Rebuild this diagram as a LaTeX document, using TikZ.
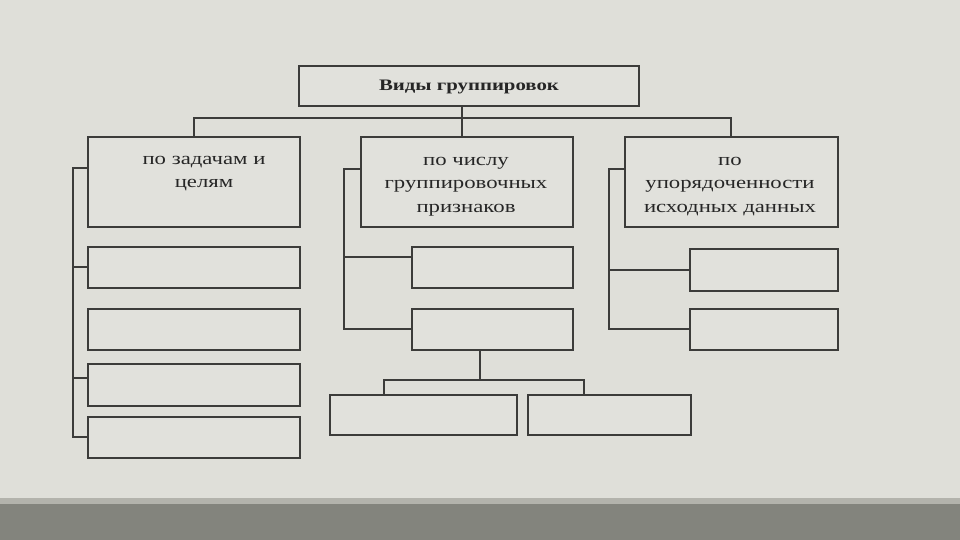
\documentclass[tikz,border=0pt]{standalone}
\usepackage{fontspec}
\setmainfont{Liberation Serif}[FakeStretch=1.3]
\definecolor{bg}{HTML}{DFDFD9}
\definecolor{boxfill}{HTML}{E1E1DC}
\definecolor{ln}{HTML}{3C3C3A}
\definecolor{band}{HTML}{83847D}
\definecolor{strip}{HTML}{B3B3AC}
\tikzset{
  box/.style={draw=ln, line width=1.8pt, fill=boxfill, anchor=north west, inner sep=0pt},
  lbl/.style={anchor=north, align=center, font=\fontsize{17.5}{23.5}\selectfont, text=black!85, inner sep=0pt},
  conn/.style={draw=ln, line width=2pt}
}
\begin{document}
\begin{tikzpicture}[x=1pt,y=-1pt]
\useasboundingbox (0,0) rectangle (960,540);
\fill[bg] (0,0) rectangle (960,540);
\fill[strip] (0,498) rectangle (960,504);
\fill[band] (0,504) rectangle (960,540);
% boxes
\node[box, minimum width=340pt, minimum height=40pt] (top) at (298,65) {};
\node[lbl, font=\fontsize{16}{20}\selectfont\bfseries] (toptext) at (469,80) {Виды группировок};
\node[box, minimum width=212pt, minimum height=90pt] (l1) at (87,136) {};
\node[box, minimum width=212pt, minimum height=41pt] (l2) at (87,246) {};
\node[box, minimum width=212pt, minimum height=41pt] (l3) at (87,308) {};
\node[box, minimum width=212pt, minimum height=42pt] (l4) at (87,363) {};
\node[box, minimum width=212pt, minimum height=41pt] (l5) at (87,416) {};
\node[box, minimum width=212pt, minimum height=90pt] (m1) at (360,136) {};
\node[box, minimum width=161pt, minimum height=41pt] (m2) at (411,246) {};
\node[box, minimum width=161pt, minimum height=41pt] (m3) at (411,308) {};
\node[box, minimum width=187pt, minimum height=40pt] (b1) at (329,394) {};
\node[box, minimum width=163pt, minimum height=40pt] (b2) at (527,394) {};
\node[box, minimum width=213pt, minimum height=90pt] (r1) at (624,136) {};
\node[box, minimum width=148pt, minimum height=42pt] (r2) at (689,248) {};
\node[box, minimum width=148pt, minimum height=41pt] (r3) at (689,308) {};
% texts
\node[lbl] (l1t) at (204,156) {по задачам и\\целям};
\node[lbl] (m1t) at (466,157) {по числу\\группировочных\\признаков};
\node[lbl] (r1t) at (730,157) {по\\упорядоченности\\исходных данных};
% top connectors
\draw[conn] (l1.north) -- ++(0,-18) -| (r1.north);
\draw[conn] ([xshift=-7pt]top.south) -- ([xshift=-7pt]top.south |- m1.north);
% left bracket
\draw[conn] ([yshift=-32pt]l1.north west) -- ++(-14,0) coordinate (lb) |- (l5.west);
\draw[conn] (lb |- l2.west) -- (l2.west);
\draw[conn] (lb |- 0,378) -- (l4.west |- 0,378);
% middle bracket
\draw[conn] ([yshift=-33pt]m1.north west) -- ++(-16,0) coordinate (mb) |- (m3.west);
\draw[conn] (mb |- 0,257) -- (m2.west |- 0,257);
% middle split
\draw[conn] ([xshift=-12pt]m3.south) -- ++(0,29) coordinate (mj);
\coordinate (bl) at (384,394);
\coordinate (br) at (584,394);
\draw[conn] (bl) |- (mj) -| (br);
% right bracket
\draw[conn] ([yshift=-33pt]r1.north west) -- ++(-15,0) coordinate (rb) |- (r3.west);
\draw[conn] (rb |- r2.west) -- (r2.west);
\end{tikzpicture}
\end{document}
